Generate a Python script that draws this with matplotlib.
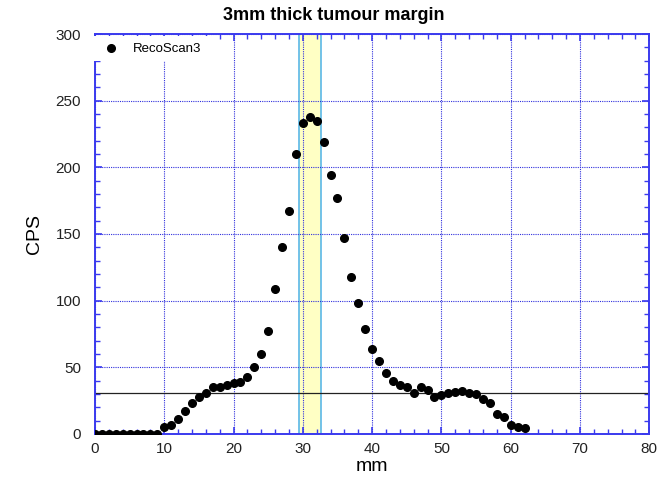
import matplotlib
matplotlib.use('Agg')
import matplotlib.pyplot as plt
from matplotlib.patches import Rectangle
from matplotlib.ticker import MultipleLocator

plt.rcParams['font.family'] = ['Liberation Sans', 'DejaVu Sans']

# ── data ───────────────────────────────────────────────────────────────────
mm = list(range(0, 63))
cps = [0, 0, 0, 0, 0, 0, 0, 0, 0, 0,
       5, 7, 11, 17, 23, 28, 31, 35, 35, 37,
       38, 39, 43, 50, 60, 77, 109, 140, 167, 210,
       233, 238, 235, 219, 194, 177, 147, 118, 98, 79,
       64, 55, 46, 40, 37, 35, 31, 35, 33, 28,
       29, 31, 31.5, 32, 31, 30, 26.5, 23.5, 15, 12.5,
       6.5, 5.5, 4.5]
margin_lo, margin_hi = 29.4, 32.6
threshold = 31

blue = '#3a3aee'

fig = plt.figure(figsize=(6.67, 4.79), dpi=100)
ax = fig.add_axes([0.1424, 0.094, 0.831, 0.835])

# margin band sits under the grid
ax.axvspan(margin_lo, margin_hi, facecolor='#ffffc4', edgecolor='#5ab8e8',
           linewidth=1.2, zorder=0.2)
ax.axhline(threshold, color='#222222', linewidth=0.9, zorder=2)
ax.plot(mm, cps, 'o', color='black', markersize=5.5, label='RecoScan3',
        zorder=3)

ax.set_xlim(0, 80)
ax.set_ylim(0, 300)
ax.xaxis.set_major_locator(MultipleLocator(10))
ax.xaxis.set_minor_locator(MultipleLocator(2))
ax.yaxis.set_major_locator(MultipleLocator(50))
ax.yaxis.set_minor_locator(MultipleLocator(10))
ax.grid(True, which='major', color='#3030dd', linestyle=(0, (1, 1)),
        linewidth=0.8)
ax.set_axisbelow(True)

for s in ax.spines.values():
    s.set_color(blue)
    s.set_linewidth(1.4)
ax.tick_params(which='both', direction='in', top=True, right=True,
               color=blue, labelsize=11, labelcolor='#222222')
ax.tick_params(which='major', length=5, width=1.2)
ax.tick_params(which='minor', length=3.5, width=1.0)
ax.tick_params(axis='y', which='major', pad=10)
ax.tick_params(axis='x', which='major', pad=6)

ax.set_xlabel('mm', fontsize=14, labelpad=1)
ax.set_ylabel('CPS', fontsize=14, labelpad=9)
fig.suptitle('3mm thick tumour margin', fontsize=13, fontweight='bold',
             x=0.5, y=0.985)

# white box behind the legend hides the spine / grid there, like the original
ax.add_patch(Rectangle((-0.018, 0.9325), 0.24, 0.0625, transform=ax.transAxes,
                       facecolor='white', edgecolor='none', clip_on=False,
                       zorder=3.5))
leg = ax.legend(loc='upper left', frameon=False, fontsize=9.5,
                handlelength=1.0, handletextpad=1.2, borderaxespad=0.3)
leg.set_zorder(5)

fig.savefig('out.png', dpi=100)
